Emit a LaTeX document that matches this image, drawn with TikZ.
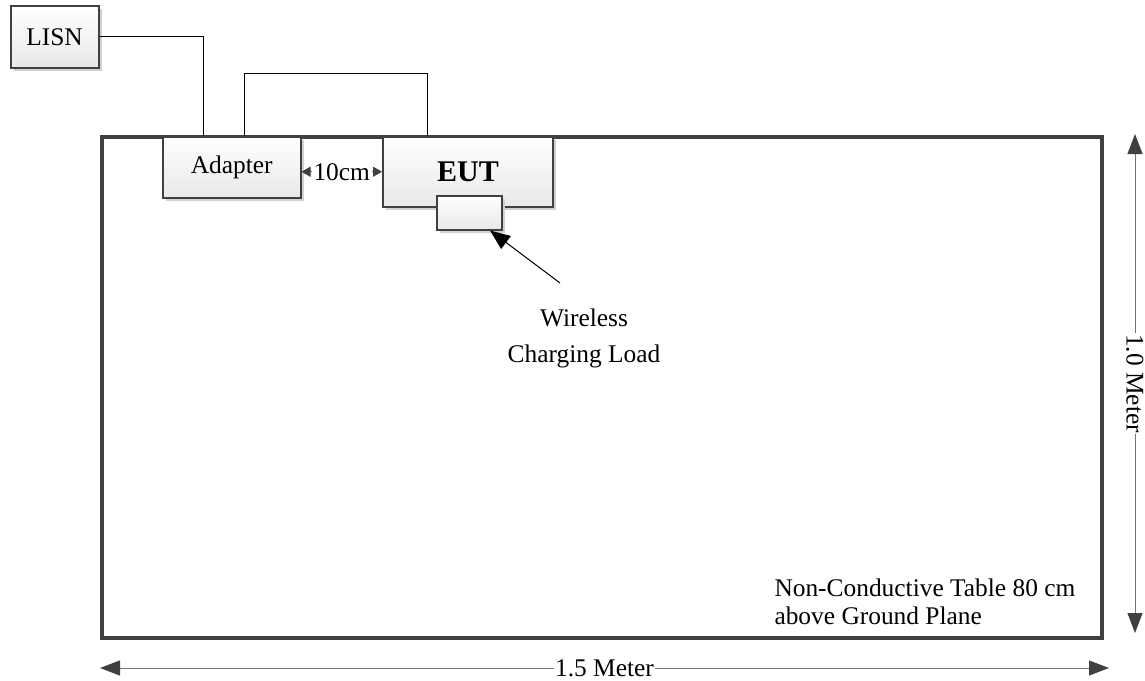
\documentclass[tikz,border=0pt]{standalone}
\usepackage{fontspec}
\setmainfont{Liberation Serif}
\usetikzlibrary{arrows.meta,shadows,positioning}
\definecolor{boxgray}{HTML}{404040}
\def\txt{\fontsize{12.7}{14}\selectfont}

\begin{document}
\begin{tikzpicture}[x=0.5pt,y=-0.5pt,line width=0.5pt,
                    main box/.style={draw=boxgray,line width=1pt,top color=white,bottom color=black!9,
                                     drop shadow={shadow xshift=1.5pt,shadow yshift=-1.5pt,fill=black!18,opacity=1},
                                     inner sep=0pt,font=\txt},
                    dim/.style={draw=black!55,{Triangle[length=10pt,width=7.5pt,color=boxgray]}-{Triangle[length=10pt,width=7.5pt,color=boxgray]}},
                    gap/.style={draw=black!55,{Triangle[length=4.5pt,width=5pt,color=boxgray]}-{Triangle[length=4.5pt,width=5pt,color=boxgray]}},
                    label/.style={font=\txt,inner sep=0.5pt,fill=white}]
  \useasboundingbox[fill=white] (0,0) rectangle (1145,680);

  \node[draw=boxgray,line width=2pt,minimum width=500pt,minimum height=250.75pt,inner sep=0pt] (table) at (602,387.25) {};

  \node[main box,minimum width=44pt,minimum height=30.75pt] (lisn) at (54.5,36.75) {LISN};
  \node[main box,minimum width=68.75pt,minimum height=30.75pt] (adapter) at (231.75,167.25) {Adapter};
  \node[main box,minimum width=85pt,minimum height=35.25pt,font=\fontsize{15}{18}\selectfont\bfseries] (eut) at (468,171.75) {EUT};
  \node[main box,minimum width=32.5pt,minimum height=17pt] (load) at (469.5,212.5) {};

  % cables
  \draw (lisn.east) -| ([xshift=-14.375pt]adapter.north);
  \draw ([xshift=6.125pt]adapter.north) -- ++(0,-62) -| ([xshift=-20.5pt]eut.north);

  \draw[gap] (adapter.east |- eut.west) -- node[label,inner sep=1pt] {10cm} (eut.west);

  \node[font=\fontsize{12.7}{18}\selectfont,align=center,inner sep=0pt] (wlabel) at (584,338) {Wireless\\Charging Load};
  \coordinate (wtail) at (560,283);
  \draw[-{Triangle[length=10pt,width=8pt]}] (wtail) -- ([xshift=10.25pt]load.south);

  \node[font=\txt,align=left,inner sep=0pt,anchor=north west] (note) at (774,578) {Non-Conductive Table 80 cm\\above Ground Plane};

  % dimensions
  \draw[dim] ([xshift=15.5pt,yshift=0.25pt]table.north east) -- node[label,sloped] {1.0 Meter} ([xshift=15.5pt,yshift=3.5pt]table.south east);
  \draw[dim] ([yshift=-14pt]table.south west) -- node[label] {1.5 Meter} ([xshift=2.5pt,yshift=-14pt]table.south east);
\end{tikzpicture}
\end{document}
